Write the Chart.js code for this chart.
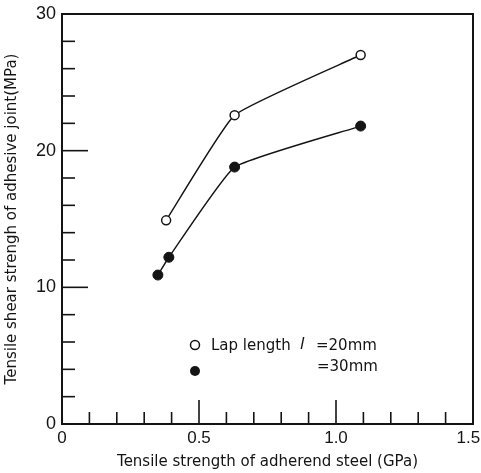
<!DOCTYPE html>
<html>
<head>
<meta charset="utf-8">
<script src="https://cdn.jsdelivr.net/npm/chart.js@4"></script>
<style>
  html, body { margin: 0; padding: 0; background: #fff; }
  #wrap { width: 481px; height: 473px; }
</style>
</head>
<body>
<div id="wrap"><canvas id="myChart"></canvas></div>
<script>
// lap length 20 mm (open circles)
var strength20 = [0.38, 0.63, 1.09];
var shear20 = [14.9, 22.6, 27.0];
// lap length 30 mm (filled circles)
var strength30 = [0.35, 0.39, 0.63, 1.09];
var shear30 = [10.9, 12.2, 18.8, 21.8];

var xLabels = ["0", "0.5", "1.0", "1.5"];
var yLabels = ["0", "10", "20", "30"];
var seriesNames = ["Lap length", "l", "=20mm", "=30mm"];

var ink = "#141414";

function toPoints(xs, ys) {
  var pts = [];
  for (var i = 0; i < xs.length; i++) {
    pts.push({ x: xs[i], y: ys[i] });
  }
  return pts;
}

function isMajor(v, step) {
  var r = v / step;
  return Math.abs(r - Math.round(r)) < 1e-6;
}

// inward ticks + frame + in-plot legend
var framePlugin = {
  id: "frame",
  afterDraw: function (chart) {
    var ctx = chart.ctx;
    var a = chart.chartArea;
    var xs = chart.scales.x;
    var ys = chart.scales.y;
    ctx.save();
    ctx.strokeStyle = ink;
    ctx.lineWidth = 2;
    ctx.strokeRect(a.left, a.top, a.right - a.left, a.bottom - a.top);

    ctx.lineWidth = 1.6;
    ys.ticks.forEach(function (t) {
      var py = ys.getPixelForValue(t.value);
      var len = isMajor(t.value, 10) ? 26 : 13;
      ctx.beginPath();
      ctx.moveTo(a.left, py);
      ctx.lineTo(a.left + len, py);
      ctx.stroke();
    });
    xs.ticks.forEach(function (t) {
      var px = xs.getPixelForValue(t.value);
      var len = isMajor(t.value, 0.5) ? 24 : 12;
      ctx.beginPath();
      ctx.moveTo(px, a.bottom);
      ctx.lineTo(px, a.bottom - len);
      ctx.stroke();
    });

    // legend
    ctx.lineWidth = 1.5;
    ctx.beginPath();
    ctx.arc(195, 345, 4.5, 0, Math.PI * 2);
    ctx.fillStyle = "#fff";
    ctx.fill();
    ctx.stroke();
    ctx.fillStyle = ink;
    ctx.beginPath();
    ctx.arc(195, 371, 5, 0, Math.PI * 2);
    ctx.fill();

    ctx.textBaseline = "middle";
    ctx.font = "15px 'DejaVu Sans'";
    ctx.fillText(seriesNames[0], 211, 346);
    ctx.font = "italic 16px 'DejaVu Sans'";
    ctx.fillText(seriesNames[1], 300, 345);
    ctx.font = "15px 'DejaVu Sans'";
    ctx.fillText(seriesNames[2], 316, 346);
    ctx.fillText(seriesNames[3], 317, 367);
    ctx.restore();
  }
};

var config = {
  type: "scatter",
  data: {
    datasets: [
      {
        label: "20mm",
        data: toPoints(strength20, shear20),
        showLine: true,
        tension: 0.12,
        borderColor: ink,
        borderWidth: 1.4,
        pointRadius: 4.5,
        pointBorderWidth: 1.5,
        pointBackgroundColor: "#fff",
        pointBorderColor: ink
      },
      {
        label: "30mm",
        data: toPoints(strength30, shear30),
        showLine: true,
        tension: 0.12,
        borderColor: ink,
        borderWidth: 1.4,
        pointRadius: 5,
        pointBorderWidth: 1,
        pointBackgroundColor: ink,
        pointBorderColor: ink
      }
    ]
  },
  options: {
    responsive: true,
    maintainAspectRatio: false,
    animation: false,
    layout: { padding: { top: 14, right: 8, left: 0, bottom: 0 } },
    plugins: {
      legend: { display: false },
      tooltip: { enabled: false }
    },
    scales: {
      x: {
        type: "linear",
        min: 0,
        max: 1.5,
        grid: { display: false, drawTicks: false },
        border: { display: false },
        ticks: {
          stepSize: 0.1,
          autoSkip: false,
          maxRotation: 0,
          padding: 4,
          color: ink,
          font: { family: "'Liberation Sans'", size: 17 },
          callback: function (v) {
            if (!isMajor(v, 0.5)) return "";
            var k = Math.round(v / 0.5);
            // last label sits on the right edge, pad it so it stays on the page
            return k == xLabels.length - 1 ? xLabels[k] + "  " : xLabels[k];
          }
        },
        title: {
          display: true,
          text: "Tensile strength of adherend steel (GPa)",
          color: ink,
          font: { family: "'DejaVu Sans'", size: 15 },
          padding: { top: 0, bottom: 2 }
        },
        afterFit: function (s) {
          s.height = 49;
          s.paddingLeft = 0;
          s.paddingRight = 0;
        }
      },
      y: {
        type: "linear",
        min: 0,
        max: 30,
        grid: { display: false, drawTicks: false },
        border: { display: false },
        ticks: {
          stepSize: 2,
          autoSkip: false,
          padding: 6,
          color: ink,
          font: { family: "'Liberation Sans'", size: 18 },
          callback: function (v) {
            if (isMajor(v, 10)) return yLabels[Math.round(v / 10)];
            return "";
          }
        },
        title: {
          display: true,
          text: "Tensile shear strengh of adhesive joint(MPa)",
          color: ink,
          font: { family: "'DejaVu Sans'", size: 15 },
          padding: { top: 3, bottom: 0 }
        },
        afterFit: function (s) {
          s.width = 62;
          s.paddingTop = 0;
          s.paddingBottom = 0;
        }
      }
    }
  },
  plugins: [framePlugin]
};

var myChart = new Chart(document.getElementById("myChart"), config);
</script>
</body>
</html>
